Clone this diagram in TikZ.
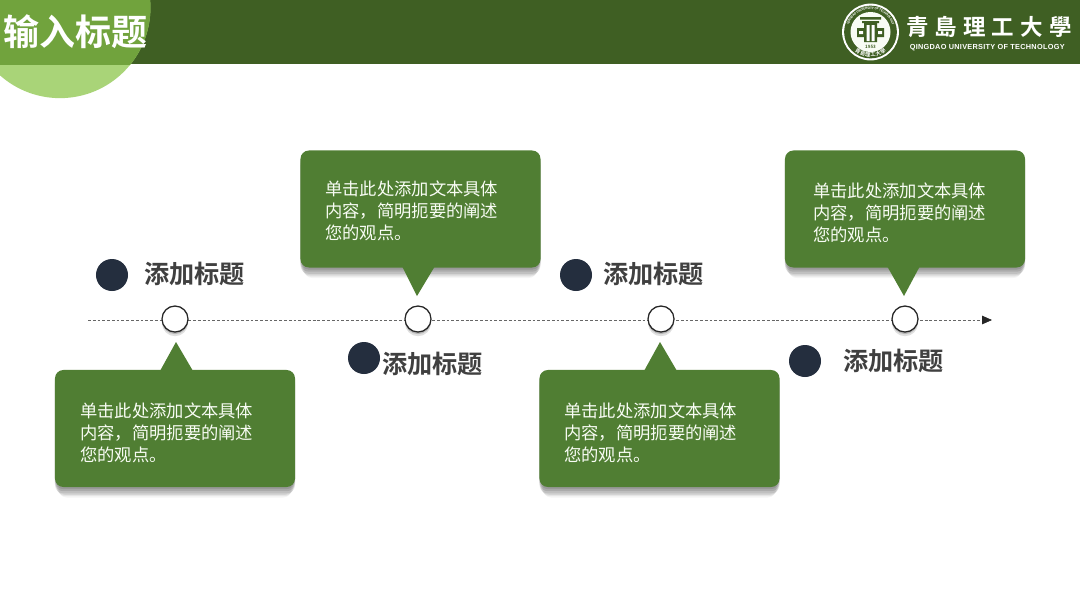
\documentclass[tikz,border=0pt]{standalone}
\usepackage{fontspec}
\setmainfont{Noto Sans CJK SC}[BoldFont={Noto Sans CJK SC Bold}]
\newfontfamily\logofont{Noto Sans CJK TC Bold}[LetterSpace=27]
\newfontfamily\latinfont{Liberation Sans}[LetterSpace=4]
\usepackage{tikz}
\usetikzlibrary{arrows.meta,shadows,decorations.text}
\definecolor{qutdark}{HTML}{3F5F23}
\definecolor{qutgreen}{HTML}{507E33}
\definecolor{qutlight}{HTML}{A9D478}
\definecolor{qutmid}{HTML}{71A33D}
\definecolor{dotnavy}{HTML}{242E3E}
\definecolor{headgrey}{HTML}{404040}
\begin{document}
\begin{tikzpicture}[x=0.025cm, y=-0.025cm,
  softshadow/.style={
    drop shadow={shadow xshift=0pt, shadow yshift=-1.5pt, opacity=.10, fill=black},
    drop shadow={shadow xshift=0pt, shadow yshift=-3pt, opacity=.10, fill=black},
    drop shadow={shadow xshift=0pt, shadow yshift=-4.5pt, opacity=.09, fill=black},
    drop shadow={shadow xshift=0pt, shadow yshift=-6pt, shadow scale=.99, opacity=.08, fill=black},
    drop shadow={shadow xshift=0pt, shadow yshift=-7.5pt, shadow scale=.98, opacity=.06, fill=black},
    drop shadow={shadow xshift=0pt, shadow yshift=-9pt, shadow scale=.97, opacity=.04, fill=black}},
  callout/.style={fill=qutgreen, rounded corners=6pt, minimum width=6cm,
               minimum height=2.925cm, inner sep=0pt, softshadow},
  pointer/.style={fill=qutgreen},
  bodytext/.style={anchor=west, align=left, text=white!92!qutlight, inner sep=0pt,
               font=\fontsize{12.3}{15.6}\selectfont},
  headtext/.style={anchor=west, inner sep=0pt, text=headgrey,
               font=\fontsize{17.9}{20}\selectfont\bfseries},
  milestone/.style={circle, draw=black!85, line width=0.9pt, fill=white,
               minimum size=0.65cm, inner sep=0pt,
               drop shadow={shadow xshift=0pt, shadow yshift=-1.5pt, opacity=.18, fill=black},
               drop shadow={shadow xshift=0pt, shadow yshift=-3pt, opacity=.12, fill=black}},
  headdot/.style={circle, fill=dotnavy, minimum size=0.8cm, inner sep=0pt},
  axis/.style={draw=black!60, line width=0.5pt, dash pattern=on 2pt off 1.4pt,
               -{Triangle[length=7pt,width=6pt,black!85]}},
]
\useasboundingbox (0,0) rectangle (1080,608);

% Header band and the title disc.
\fill[white] (0,0) rectangle (1080,608);
\node[fill=qutdark, minimum width=27cm, minimum height=1.6cm, inner sep=0pt, anchor=north west]
  (band) at (0,0) {};
\begin{scope}
  \clip (0,0) rectangle (1080,608);
  \fill[qutlight] (60,7.7) circle (2.26cm);
  \clip (0,0) rectangle (1080,64);
  \fill[qutmid] (60,7.7) circle (2.26cm);
\end{scope}
\node[anchor=west, inner sep=0pt, text=white, font=\fontsize{25.6}{28}\selectfont\bfseries]
  (title) at (3,32) {输入标题};

% University seal.
\node[circle, fill=white, minimum size=1.42cm, inner sep=0pt] (seal) at (870.5,32) {};
\node[circle, fill=qutdark, minimum size=1.32cm, inner sep=0pt] (sealring) at (seal) {};
\node[circle, fill=white!92!qutlight, minimum size=1cm, inner sep=0pt] (sealcore) at (seal) {};
\path[decorate, decoration={text along path, text align=center, raise=-1.3pt,
    text={|\fontsize{3.8}{4}\selectfont\bfseries\color{white}|青島理工大學}}]
  (847.5,32) arc[start angle=180, end angle=0, radius=23];
\path[decorate, decoration={text along path, text align=center, raise=-0.8pt,
    text={|\fontsize{2.2}{3}\selectfont\bfseries\color{white}|QINGDAO UNIVERSITY OF TECHNOLOGY}}]
  (846.5,32) arc[start angle=180, end angle=360, radius=24];
\fill[qutdark] (860,17) rectangle (881,19.5) (862,21) rectangle (879,23)
  (864,23) rectangle (877,42) (857,28) rectangle (884,37);
\fill[white] (866.5,25) rectangle (869.5,41) (871.5,25) rectangle (874.5,41)
  (859,31) rectangle (863,34) (878,31) rectangle (882,34);
\node[inner sep=0pt, text=qutdark, font=\fontsize{3.2}{3}\selectfont\bfseries] (sealyear) at (870.5,46.5) {1953};

% University name.
\node[anchor=west, inner sep=0pt, text=white, font=\logofont\fontsize{16}{18}\selectfont]
  (unicn) at (906,27) {青島理工大學};
\node[anchor=west, inner sep=0pt, text=white, font=\latinfont\fontsize{5.2}{6}\selectfont\bfseries]
  (unien) at (909.5,48) {QINGDAO UNIVERSITY OF TECHNOLOGY};

% Time axis, milestones on top.
\coordinate (axisstart) at (88,320);
\coordinate (axisend) at (992,320);
\draw[axis] (axisstart) -- (axisend);
\node[milestone] (m1) at (175,319) {};
\node[milestone] (m2) at (418,319) {};
\node[milestone] (m3) at (661,319) {};
\node[milestone] (m4) at (905,319) {};

% Callouts below the axis.
\node[callout] (box1) at (175,428.5) {};
\fill[pointer] (160,371) -- (176,342) -- (193,371) -- cycle;
\node[bodytext] (text1) at (80,433) {单击此处添加文本具体\\内容，简明扼要的阐述\\您的观点。};
\node[callout] (box3) at (659.5,428.5) {};
\fill[pointer] (644,371) -- (660,342) -- (677,371) -- cycle;
\node[bodytext] (text3) at (564,433) {单击此处添加文本具体\\内容，简明扼要的阐述\\您的观点。};

% Callouts above the axis.
\node[callout] (box2) at (420.5,209) {};
\fill[pointer] (402,266) -- (417,296) -- (435,266) -- cycle;
\node[bodytext] (text2) at (325,211) {单击此处添加文本具体\\内容，简明扼要的阐述\\您的观点。};
\node[callout] (box4) at (905,209) {};
\fill[pointer] (887,266) -- (904,296) -- (920,266) -- cycle;
\node[bodytext] (text4) at (813,213) {单击此处添加文本具体\\内容，简明扼要的阐述\\您的观点。};

% Headings with their dots.
\node[headdot] (dot1) at (112,275) {};
\node[headtext] (head1) at (144,274) {添加标题};
\node[headdot] (dot2) at (364,358) {};
\node[headtext] (head2) at (382,364) {添加标题};
\node[headdot] (dot3) at (576,275) {};
\node[headtext] (head3) at (603,274) {添加标题};
\node[headdot] (dot4) at (805,361) {};
\node[headtext] (head4) at (843,361) {添加标题};

\end{tikzpicture}
\end{document}
